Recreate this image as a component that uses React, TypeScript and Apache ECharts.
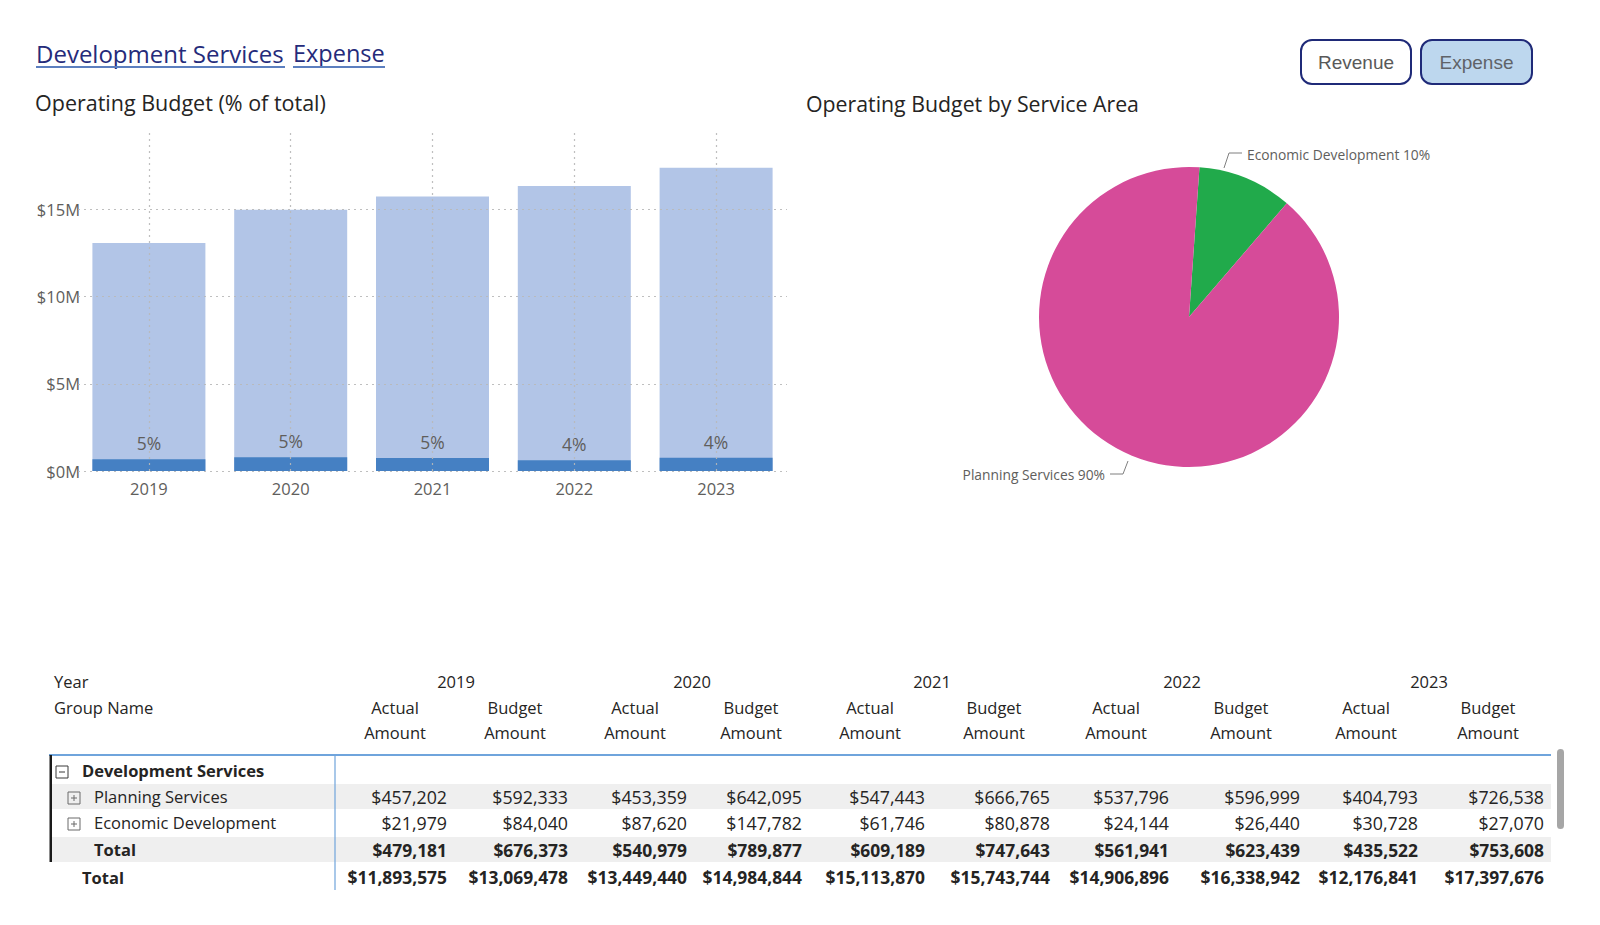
import React, { useEffect, useRef } from 'react';
import * as echarts from 'echarts';

// ---- data ----
const years = ['2019', '2020', '2021', '2022', '2023'];
const totalBudget = [13069478, 14984844, 15743744, 16338942, 17397676];
const totalActual = [11893575, 13449440, 15113870, 14906896, 12176841];
const devBudget = [676373, 789877, 747643, 623439, 753608];
const devActual = [479181, 540979, 609189, 561941, 435522];
const planningActual = [457202, 453359, 547443, 537796, 404793];
const planningBudget = [592333, 642095, 666765, 596999, 726538];
const econActual = [21979, 87620, 61746, 24144, 30728];
const econBudget = [84040, 147782, 80878, 26440, 27070];
const serviceNames = ['Economic Development', 'Planning Services'];
const yTicks = [0, 5000000, 10000000, 15000000];

const FONT = '"Segoe UI", "Open Sans", sans-serif';
const TEXT = '#252423';
const GREY = '#605E5C';

const sum = (a: number[]) => a.reduce((s, v) => s + v, 0);
const money = (v: number) => '$' + v.toLocaleString('en-US');
const pair = (a: number[], b: number[]) => a.flatMap((v, i) => [v, b[i]]);

// column geometry of the matrix
const colRight = [447, 568, 687, 802, 925, 1050, 1169, 1300, 1418, 1544];
const colCenter = [395, 515, 635, 751, 870, 994, 1116, 1241, 1366, 1488];
const yearCenter = [456, 692, 932, 1182, 1429];

function txt(text: string, x: number, y: number, o: any = {}) {
  return {
    type: 'text',
    z: o.z ?? 20,
    x,
    y,
    style: {
      text,
      fill: o.fill ?? TEXT,
      fontSize: o.size ?? 16.5,
      fontFamily: o.family ?? FONT,
      fontWeight: o.weight ?? 'normal',
      textAlign: o.align ?? 'left',
      textVerticalAlign: 'middle',
    },
  };
}

function buildTable(): any[] {
  const els: any[] = [];
  els.push(txt('Year', 54, 681));
  els.push(txt('Group Name', 54, 707));
  years.forEach((y, i) => els.push(txt(y, yearCenter[i], 681, { align: 'center' })));
  colCenter.forEach((cx, i) => {
    els.push(txt(i % 2 === 0 ? 'Actual' : 'Budget', cx, 707, { align: 'center' }));
    els.push(txt('Amount', cx, 732, { align: 'center' }));
  });

  // row bands
  els.push({ type: 'rect', z: 5, shape: { x: 52, y: 784, width: 1499, height: 25 }, style: { fill: '#EFEFEF' } });
  els.push({ type: 'rect', z: 5, shape: { x: 52, y: 837, width: 1499, height: 25 }, style: { fill: '#EFEFEF' } });

  // rules
  els.push({ type: 'line', z: 15, shape: { x1: 49, y1: 755, x2: 1551, y2: 755 }, style: { stroke: '#3F86D0', lineWidth: 1.5 } });
  els.push({ type: 'line', z: 15, shape: { x1: 335, y1: 755, x2: 335, y2: 890 }, style: { stroke: '#6FA3DB', lineWidth: 1.2 } });
  els.push({ type: 'rect', z: 15, shape: { x: 49.5, y: 755, width: 2.5, height: 107 }, style: { fill: '#1A1A1A' } });

  // scrollbar thumb
  els.push({ type: 'rect', z: 15, shape: { x: 1557, y: 749, width: 7, height: 80, r: 3.5 }, style: { fill: '#A6A6A6' } });

  // expand / collapse boxes
  const box = (x: number, y: number, plus: boolean, color: string) => {
    els.push({ type: 'rect', z: 16, shape: { x, y: y - 6, width: 12, height: 12 }, style: { fill: 'none', stroke: color, lineWidth: 1 } });
    els.push({ type: 'line', z: 16, shape: { x1: x + 3, y1: y, x2: x + 9, y2: y }, style: { stroke: color, lineWidth: 1 } });
    if (plus) els.push({ type: 'line', z: 16, shape: { x1: x + 6, y1: y - 3, x2: x + 6, y2: y + 3 }, style: { stroke: color, lineWidth: 1 } });
  };
  box(56, 772, false, '#3B3B3B');
  box(68, 798, true, '#6B6B6B');
  box(68, 824, true, '#6B6B6B');

  els.push(txt('Development Services', 82, 770, { weight: 'bold' }));

  const rows = [
    { label: 'Planning Services', x: 94, y: 796.5, bold: false, vals: pair(planningActual, planningBudget) },
    { label: 'Economic Development', x: 94, y: 822.5, bold: false, vals: pair(econActual, econBudget) },
    { label: 'Total', x: 94, y: 849.5, bold: true, vals: pair(devActual, devBudget) },
    { label: 'Total', x: 82, y: 877, bold: true, vals: pair(totalActual, totalBudget) },
  ];
  rows.forEach((r) => {
    const weight = r.bold ? 'bold' : 'normal';
    els.push(txt(r.label, r.x, r.y, { weight }));
    r.vals.forEach((v, i) =>
      els.push(txt(money(v), colRight[i], r.y, { weight, align: 'right', size: r.bold ? 17.4 : 17.8 }))
    );
  });
  return els;
}

function buildHeader(): any[] {
  const navy = '#252B7A';
  const btnFont = '"Liberation Sans", Arial, sans-serif';
  return [
    txt('Development Services', 36, 53, { size: 24, fill: navy }),
    { type: 'rect', z: 20, shape: { x: 36, y: 66, width: 249, height: 2 }, style: { fill: '#5C7FBF' } },
    txt('Expense', 293, 53, { size: 23.5, fill: navy }),
    { type: 'rect', z: 20, shape: { x: 293, y: 66, width: 92, height: 2 }, style: { fill: '#5C7FBF' } },
    txt('Operating Budget (% of total)', 35, 102, { size: 21.5 }),
    txt('Operating Budget by Service Area', 806, 103, { size: 21.3 }),
    { type: 'rect', z: 20, shape: { x: 1301, y: 40, width: 110, height: 44, r: 11 }, style: { fill: '#FFFFFF', stroke: '#1F2A78', lineWidth: 2 } },
    txt('Revenue', 1356, 62, { size: 19, family: btnFont, fill: '#595959', align: 'center', z: 21 }),
    { type: 'rect', z: 20, shape: { x: 1421, y: 40, width: 111, height: 44, r: 11 }, style: { fill: '#BDD7EE', stroke: '#1F2A78', lineWidth: 2 } },
    txt('Expense', 1476.5, 62, { size: 19, family: btnFont, fill: '#5F6368', align: 'center', z: 21 }),
  ];
}

export default function App() {
  const ref = useRef<HTMLDivElement>(null);

  useEffect(() => {
    document.body.style.margin = '0';
    if (!ref.current) return;
    const chart = echarts.init(ref.current, undefined, { renderer: 'svg' });

    const serviceBudget = [sum(econBudget), sum(planningBudget)];
    const pieColors = ['#21AA4B', '#D64B99'];

    chart.setOption({
      animation: false,
      backgroundColor: '#FFFFFF',
      textStyle: { fontFamily: FONT },
      grid: { left: 78, top: 131, width: 709, height: 340, containLabel: false },
      xAxis: {
        type: 'category',
        data: years,
        axisLine: { show: false },
        axisTick: { show: false },
        splitLine: { show: false },
        axisLabel: { color: GREY, fontSize: 16.5, margin: 9, fontFamily: FONT },
      },
      yAxis: {
        type: 'value',
        min: 0,
        max: 19500000,
        interval: 5000000,
        axisLine: { show: false },
        axisTick: { show: false },
        splitLine: { show: false },
        axisLabel: {
          color: GREY,
          fontSize: 16.5,
          margin: -2,
          fontFamily: FONT,
          formatter: (v: number) => (yTicks.includes(v) ? '$' + v / 1000000 + 'M' : ''),
        },
      },
      series: [
        {
          name: 'Total Budget',
          type: 'bar',
          data: totalBudget,
          barWidth: 113,
          barGap: '-100%',
          z: 2,
          itemStyle: { color: '#B2C5E7' },
        },
        {
          name: 'Development Services Budget',
          type: 'bar',
          data: devBudget,
          barWidth: 113,
          z: 3,
          itemStyle: { color: '#4580C3' },
          label: {
            show: true,
            position: 'top',
            distance: 7,
            color: GREY,
            fontSize: 17.5,
            fontFamily: FONT,
            formatter: (p: any) => Math.round((devBudget[p.dataIndex] / totalBudget[p.dataIndex]) * 100) + '%',
          },
          markLine: {
            silent: true,
            symbol: 'none',
            label: { show: false },
            lineStyle: { type: [2, 4], color: '#B8B8B8', width: 1.2, opacity: 0.9 },
            data: [...yTicks.map((v) => ({ yAxis: v })), ...years.map((y) => ({ xAxis: y }))],
          },
        },
        {
          name: 'Service Area',
          type: 'pie',
          center: [1189, 317],
          radius: 150,
          startAngle: 86,
          clockwise: true,
          data: serviceNames.map((n, i) => ({ name: n, value: serviceBudget[i], itemStyle: { color: pieColors[i] } })),
          label: {
            show: true,
            color: GREY,
            fontSize: 13.8,
            fontFamily: FONT,
            formatter: (p: any) => p.name + ' ' + Math.round(p.percent) + '%',
          },
          labelLine: { show: true, length: 10, length2: 12, lineStyle: { color: '#7F7F7F', width: 1 } },
          labelLayout: (p: any) =>
            p.dataIndex === 0
              ? { x: 1247, y: 154, align: 'left', verticalAlign: 'middle', labelLinePoints: [[1224, 168], [1229, 153], [1242, 153]] }
              : { x: 1105, y: 474, align: 'right', verticalAlign: 'middle', labelLinePoints: [[1128, 461], [1123, 474], [1110, 474]] },
        },
      ],
      graphic: { elements: [...buildHeader(), ...buildTable()] },
    });

    return () => chart.dispose();
  }, []);

  return <div ref={ref} style={{ width: 1600, height: 925 }} />;
}
